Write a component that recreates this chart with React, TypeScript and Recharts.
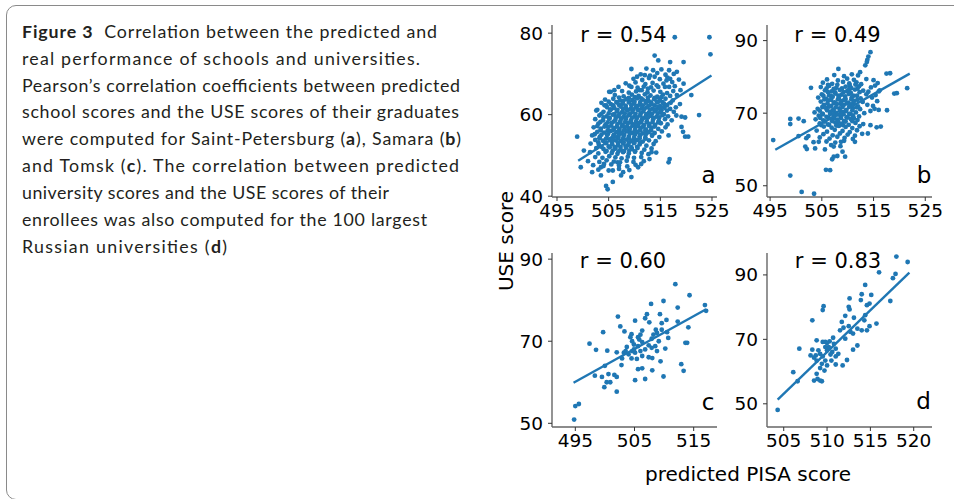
import React from "react";
import { ScatterChart, Scatter, XAxis, YAxis } from "recharts";

type Pt = [number, number];

const BLUE = "#1f77b4";
const MPL_FONT = "'DejaVu Sans', sans-serif";

// (a) Saint-Petersburg schools: predicted PISA score vs USE score
const spbSchools: Pt[] = [
  [517.8, 79.0], [524.5, 79.0], [524.7, 74.8], [513.9, 74.5], [514.6, 73.3], [516.9, 72.9], [519.5, 72.9],
  [509.4, 71.2], [512.3, 71.3], [513.6, 70.9], [515.2, 71.1], [516.7, 70.9], [518.2, 70.5], [510.5, 69.3],
  [512.0, 69.7], [513.9, 69.3], [516.2, 68.4], [516.9, 68.8], [519.5, 67.6], [505.4, 65.6], [506.1, 66.0],
  [509.4, 66.8], [511.0, 66.0], [512.6, 66.4], [514.6, 66.8], [516.7, 66.8], [518.9, 66.0], [521.0, 64.8],
  [502.8, 61.2], [504.5, 62.3], [505.8, 62.3], [522.5, 59.9], [519.1, 59.5], [519.8, 59.3], [498.9, 54.6],
  [500.2, 51.2], [499.6, 47.1], [501.8, 45.9], [503.5, 45.1], [504.5, 42.5], [504.8, 41.7], [505.8, 43.5],
  [507.4, 45.1], [507.8, 45.9], [509.4, 44.7], [505.8, 46.3], [510.7, 47.1], [511.3, 47.9], [512.9, 49.1],
  [513.3, 50.8], [516.8, 49.1], [516.6, 48.3], [519.8, 54.6], [520.4, 54.6], [519.4, 55.8], [519.1, 57.0],
  [503.5, 47.1], [504.1, 47.9], [506.7, 48.3],
  [511.2, 69.9], [513.0, 69.6], [514.4, 70.2], [516.0, 69.8], [517.6, 70.0],
  [509.8, 68.8], [511.5, 68.5], [512.8, 69.0], [514.9, 68.7], [516.4, 69.1], [518.6, 68.6],
  [508.3, 67.7], [510.2, 67.9], [512.1, 67.5], [513.5, 67.8], [515.6, 67.6], [517.3, 68.0],
  [506.9, 66.8], [509.0, 67.1], [510.6, 66.6], [511.8, 66.9], [513.2, 66.7], [514.3, 67.2], [515.9, 66.8], [517.8, 67.0],
  [505.1, 65.6], [507.6, 65.8], [508.9, 65.4], [510.3, 65.7], [511.4, 66.0], [512.5, 65.5], [513.7, 65.9],
  [515.0, 65.6], [516.3, 65.3], [517.5, 65.8],
  [506.2, 64.8], [507.9, 64.5], [509.5, 64.9], [510.8, 64.6], [512.0, 65.0], [513.1, 64.7], [514.4, 64.4],
  [515.5, 64.9], [516.9, 64.6], [518.2, 64.8],
  [507.0, 64.2], [508.9, 64.1], [510.1, 64.3], [511.3, 64.0], [512.6, 64.2], [513.9, 64.1], [515.2, 64.3],
  [504.3, 63.7], [505.9, 63.9], [507.2, 63.5], [508.4, 63.8], [509.6, 63.6], [510.5, 64.0], [511.6, 63.7],
  [512.7, 63.4], [513.8, 63.8], [514.9, 63.6], [516.0, 63.9], [517.4, 63.5],
  [505.0, 63.2], [506.5, 63.1], [507.8, 63.3], [509.0, 63.0], [510.0, 63.2], [511.1, 63.1], [512.2, 63.3],
  [513.2, 63.0], [514.3, 63.2], [515.4, 63.1],
  [503.6, 62.9], [505.4, 62.6], [506.6, 63.0], [507.7, 62.7], [508.9, 63.1], [509.9, 62.8], [511.0, 62.5],
  [512.2, 62.9], [513.3, 62.6], [514.5, 63.0], [515.7, 62.7], [517.0, 62.9], [518.8, 62.6],
  [504.2, 62.3], [505.9, 62.2], [507.0, 62.4], [508.3, 62.2], [509.4, 62.3], [510.5, 62.1], [511.6, 62.3],
  [512.8, 62.2], [513.9, 62.3], [515.0, 62.1], [516.3, 62.3],
  [504.7, 61.8], [506.1, 61.6], [507.3, 62.0], [508.3, 61.7], [509.3, 61.5], [510.3, 61.9], [511.4, 61.6],
  [512.4, 61.8], [513.5, 61.5], [514.6, 61.9], [515.8, 61.7], [516.9, 61.4], [518.0, 61.8],
  [505.4, 61.3], [506.7, 61.2], [507.8, 61.4], [508.8, 61.2], [509.8, 61.3], [510.8, 61.2], [511.9, 61.4],
  [513.0, 61.2], [514.1, 61.3], [515.2, 61.1],
  [502.6, 61.0], [504.0, 60.7], [505.3, 61.1], [506.6, 60.8], [507.6, 60.6], [508.6, 61.0], [509.6, 60.7],
  [510.7, 61.1], [511.7, 60.8], [512.8, 60.5], [513.9, 60.9], [515.0, 60.6], [516.3, 61.0], [517.6, 60.7],
  [503.6, 60.2], [505.0, 60.3], [506.1, 60.1], [507.1, 60.2], [508.1, 60.3], [509.1, 60.1], [510.2, 60.2],
  [511.2, 60.3], [512.3, 60.1], [513.4, 60.2], [514.5, 60.3], [515.7, 60.1],
  [503.2, 59.8], [504.6, 59.6], [505.8, 60.0], [506.9, 59.7], [507.9, 59.5], [508.9, 59.9], [510.0, 59.6],
  [511.1, 59.8], [512.1, 59.4], [513.1, 59.7], [514.3, 59.5], [515.4, 59.9], [516.5, 59.6], [518.1, 59.8],
  [504.0, 59.3], [505.2, 59.2], [506.4, 59.3], [507.4, 59.1], [508.4, 59.3], [509.5, 59.2], [510.5, 59.3],
  [511.6, 59.1], [512.6, 59.3], [513.7, 59.2], [514.8, 59.3],
  [502.4, 58.9], [503.9, 58.6], [505.1, 59.0], [506.3, 58.7], [507.3, 58.5], [508.3, 58.9], [509.3, 58.6],
  [510.4, 59.0], [511.4, 58.7], [512.4, 58.4], [513.6, 58.8], [514.7, 58.5], [515.9, 58.9], [517.2, 58.6],
  [503.4, 58.2], [504.8, 58.1], [506.0, 58.3], [507.2, 58.1], [508.2, 58.2], [509.3, 58.1], [510.3, 58.3],
  [511.3, 58.2], [512.4, 58.1], [513.5, 58.2], [514.6, 58.1],
  [503.0, 57.8], [504.4, 57.6], [505.6, 58.0], [506.7, 57.7], [507.7, 57.5], [508.7, 57.9], [509.8, 57.6],
  [510.8, 57.8], [511.8, 57.4], [512.9, 57.7], [514.0, 57.5], [515.1, 57.9], [516.4, 57.6],
  [502.8, 57.2], [504.2, 57.1], [505.5, 57.3], [506.6, 57.1], [507.6, 57.2], [508.6, 57.1], [509.6, 57.3],
  [510.7, 57.2], [511.7, 57.1], [512.8, 57.2], [513.9, 57.1],
  [502.1, 56.9], [503.5, 56.6], [504.9, 57.0], [506.1, 56.7], [507.1, 56.5], [508.1, 56.9], [509.1, 56.6],
  [510.2, 57.0], [511.2, 56.7], [512.2, 56.4], [513.3, 56.8], [514.6, 56.5], [516.0, 56.9],
  [503.4, 56.2], [504.8, 56.1], [505.9, 56.3], [507.0, 56.1], [508.0, 56.2], [509.0, 56.1], [510.1, 56.3],
  [511.1, 56.2], [512.1, 56.1], [513.2, 56.2],
  [502.8, 55.8], [504.1, 55.6], [505.4, 56.0], [506.5, 55.7], [507.5, 55.5], [508.5, 55.9], [509.6, 55.6],
  [510.6, 55.8], [511.6, 55.4], [512.7, 55.7], [513.9, 55.5], [515.3, 55.9],
  [502.3, 55.2], [503.6, 55.1], [504.9, 55.3], [506.0, 55.1], [507.0, 55.2], [508.0, 55.1], [509.1, 55.3],
  [510.1, 55.2], [511.1, 55.1], [512.2, 55.2], [513.4, 55.1],
  [501.8, 54.9], [503.3, 54.6], [504.7, 55.0], [505.9, 54.7], [506.9, 54.5], [507.9, 54.9], [508.9, 54.6],
  [510.0, 55.0], [511.0, 54.7], [512.1, 54.4], [513.4, 54.8], [514.8, 54.5], [516.6, 54.9],
  [503.2, 54.2], [504.5, 54.1], [505.7, 54.3], [506.8, 54.1], [507.8, 54.2], [508.9, 54.1], [509.9, 54.3],
  [511.0, 54.2], [512.1, 54.1],
  [502.4, 53.8], [503.9, 53.6], [505.2, 54.0], [506.3, 53.7], [507.4, 53.5], [508.4, 53.9], [509.4, 53.6],
  [510.5, 53.8], [511.6, 53.4], [512.8, 53.7], [514.1, 53.5],
  [503.0, 53.2], [504.4, 53.1], [505.6, 53.3], [506.8, 53.1], [507.9, 53.2], [508.9, 53.1], [510.0, 53.3],
  [511.1, 53.2],
  [501.5, 52.9], [503.1, 52.6], [504.5, 53.0], [505.7, 52.7], [506.8, 52.5], [507.8, 52.9], [508.8, 52.6],
  [509.9, 53.0], [511.0, 52.7], [512.3, 52.4], [513.7, 52.8],
  [503.6, 52.1], [505.0, 52.2], [506.2, 52.0], [507.3, 52.1], [508.3, 52.2], [509.4, 52.0], [510.5, 52.1],
  [502.6, 51.8], [504.0, 51.6], [505.2, 52.0], [506.3, 51.7], [507.3, 51.5], [508.4, 51.9], [509.5, 51.6],
  [510.6, 51.8], [511.9, 51.4], [513.3, 51.7],
  [504.6, 51.1], [505.8, 51.2], [506.9, 51.0], [508.0, 51.1], [509.0, 51.2], [510.1, 51.0],
  [501.4, 50.8], [503.0, 50.5], [504.4, 50.9], [505.6, 50.6], [506.7, 50.4], [507.8, 50.8], [508.9, 50.5],
  [510.1, 50.9], [511.4, 50.6], [512.7, 50.3], [514.2, 50.7],
  [502.4, 49.6], [503.8, 49.4], [505.1, 49.8], [506.3, 49.5], [507.5, 49.3], [508.7, 49.7], [509.9, 49.4], [511.3, 49.6],
  [501.0, 48.6], [503.2, 48.4], [504.6, 48.8], [506.0, 48.5], [507.2, 48.3], [508.5, 48.7], [509.8, 48.4], [511.8, 48.6],
  [502.0, 47.6], [504.0, 47.4], [505.5, 47.8], [507.0, 47.5], [508.6, 47.3], [510.2, 47.7],
  [503.0, 46.5], [505.0, 46.3], [507.0, 46.7], [509.0, 46.4],
];
const spbFit: Pt[] = [[499.1, 48.7], [524.9, 69.6]];
const spbXTicks = [495, 505, 515, 525];
const spbYTicks = [40, 60, 80];

// (b) Samara schools
const samaraSchools: Pt[] = [
  [514.4, 86.8], [514.0, 85.6], [513.8, 84.7], [513.7, 84.1], [513.4, 83.2], [508.2, 82.2], [512.4, 81.3],
  [517.5, 80.9], [521.5, 76.9], [519.0, 75.4], [502.9, 77.0], [517.6, 70.8], [514.4, 66.7], [515.6, 66.1],
  [516.4, 66.3], [514.4, 70.6], [515.2, 71.2], [514.9, 72.0], [498.9, 68.4], [498.9, 67.0], [500.5, 68.5],
  [501.5, 67.8], [495.6, 62.6], [500.5, 63.7], [501.8, 60.8], [502.1, 60.1], [503.4, 62.0], [503.7, 60.3],
  [505.6, 60.0], [507.3, 60.8], [507.3, 58.0], [507.0, 57.3], [509.0, 59.4], [505.8, 54.4], [498.9, 52.8],
  [501.1, 48.3], [503.5, 47.8], [513.9, 64.4], [516.0, 76.0], [502.0, 63.1], [502.4, 63.7], [504.4, 62.1],
  [506.6, 54.3], [508.0, 58.2], [509.5, 58.0], [508.7, 62.1], [519.5, 75.5], [518.2, 81.0],
  [507.4, 80.5], [509.3, 80.2], [510.8, 80.7], [512.0, 80.4],
  [506.0, 79.3], [508.1, 79.0], [509.9, 79.5], [511.2, 79.2], [513.6, 79.4], [515.0, 79.1],
  [505.2, 78.4], [507.0, 78.1], [509.1, 78.6], [510.3, 78.2], [511.7, 78.5], [512.6, 78.0], [515.8, 78.3],
  [506.2, 77.8], [508.0, 77.8], [510.4, 77.7], [511.5, 77.9],
  [504.8, 77.2], [506.4, 77.5], [507.8, 77.0], [509.6, 77.3], [510.7, 76.9], [512.2, 77.4], [514.5, 77.1], [515.3, 77.6],
  [505.9, 76.8], [507.3, 76.7], [508.9, 76.8], [510.3, 76.6], [511.9, 76.8],
  [505.6, 76.3], [506.9, 76.0], [508.5, 76.4], [509.9, 76.1], [511.4, 76.5], [513.0, 76.2], [514.0, 75.9], [516.2, 76.3],
  [506.2, 75.8], [507.6, 75.7], [509.2, 75.8], [510.6, 75.6], [512.3, 75.8],
  [505.0, 75.2], [506.4, 74.9], [507.6, 75.4], [508.8, 75.1], [510.2, 75.3], [511.8, 74.8], [513.6, 75.2], [515.4, 75.0],
  [505.3, 74.8], [506.8, 74.7], [508.2, 74.8], [509.5, 74.6], [511.1, 74.8],
  [504.3, 74.3], [505.8, 74.0], [507.1, 74.5], [508.3, 74.2], [509.6, 73.9], [510.8, 74.4], [512.5, 74.1], [514.7, 74.3],
  [505.5, 73.8], [506.8, 73.7], [508.1, 73.8], [509.3, 73.6], [510.7, 73.8], [511.9, 73.7],
  [504.8, 73.2], [506.2, 73.5], [507.5, 73.0], [508.8, 73.3], [510.1, 72.9], [511.3, 73.4], [512.9, 73.1], [515.7, 73.3],
  [506.1, 72.7], [507.3, 72.8], [508.6, 72.6], [509.8, 72.7], [511.1, 72.8],
  [505.4, 72.3], [506.8, 72.0], [507.9, 72.5], [509.2, 72.2], [510.6, 72.4], [512.0, 71.9], [513.8, 72.3],
  [505.1, 71.7], [506.4, 71.8], [507.7, 71.6], [509.0, 71.7], [510.3, 71.8], [511.7, 71.6],
  [504.2, 71.2], [505.7, 71.5], [507.2, 71.0], [508.4, 71.3], [509.7, 70.9], [511.0, 71.4], [512.4, 71.1], [516.0, 70.9],
  [504.6, 70.7], [506.0, 70.8], [507.3, 70.6], [508.5, 70.7], [509.7, 70.6], [510.9, 70.8],
  [503.6, 70.2], [505.1, 69.9], [506.6, 70.4], [507.8, 70.1], [509.0, 70.3], [510.3, 69.8], [511.6, 70.2], [513.2, 70.0],
  [505.2, 69.7], [506.6, 69.8], [507.9, 69.6], [509.2, 69.7], [510.5, 69.8],
  [504.4, 69.3], [505.9, 69.0], [507.3, 69.5], [508.6, 69.2], [509.8, 68.9], [511.0, 69.4], [512.2, 69.1],
  [504.7, 68.7], [506.2, 68.8], [507.4, 68.6], [508.7, 68.7], [510.0, 68.8], [511.2, 68.6],
  [503.8, 68.3], [505.3, 68.0], [506.8, 68.5], [508.0, 68.2], [509.3, 67.9], [510.6, 68.4], [511.9, 68.1],
  [505.6, 67.7], [507.0, 67.8], [508.2, 67.6], [509.6, 67.7], [510.9, 67.8],
  [504.6, 67.2], [506.2, 66.9], [507.6, 67.4], [508.9, 67.1], [510.2, 66.8], [511.5, 67.3], [513.0, 67.0],
  [504.9, 66.7], [506.4, 66.8], [507.8, 66.6], [509.1, 66.7],
  [505.4, 66.3], [506.9, 66.0], [508.3, 66.5], [509.6, 66.2], [510.9, 65.9], [512.3, 66.4],
  [504.0, 65.2], [506.0, 64.9], [507.5, 65.4], [509.0, 65.1], [510.4, 64.8], [511.8, 65.3],
  [505.3, 64.2], [507.1, 63.9], [508.5, 64.4], [510.0, 64.1], [511.4, 63.8], [512.8, 64.3],
  [504.6, 63.3], [506.5, 63.0], [508.0, 63.5], [509.4, 63.2], [511.0, 62.9],
  [505.9, 62.2], [507.6, 61.9], [509.3, 62.4], [511.4, 62.1],
  [506.8, 61.2], [508.6, 60.9],
];
const samaraFit: Pt[] = [[496.0, 59.9], [522.0, 80.9]];
const samaraXTicks = [495, 505, 515, 525];
const samaraYTicks = [50, 70, 90];

// (c) Tomsk schools
const tomskSchools: Pt[] = [
  [494.8, 50.9], [495.0, 54.2], [495.6, 54.7], [511.9, 83.9], [514.3, 81.2], [516.9, 78.8], [517.1, 77.4],
  [507.8, 79.1], [509.9, 79.8], [512.3, 78.2], [509.3, 76.6], [510.4, 75.2], [512.3, 74.8], [514.1, 73.4],
  [502.2, 76.0], [505.1, 75.0], [507.5, 74.6], [507.1, 76.6], [506.8, 75.6], [502.6, 73.6], [503.3, 72.4],
  [499.7, 72.2], [504.3, 71.0], [506.3, 72.6], [508.6, 72.8], [509.6, 72.8], [510.7, 70.8], [497.4, 69.4],
  [498.5, 67.9], [500.4, 67.7], [502.0, 67.3], [503.2, 67.2], [504.0, 66.8], [505.1, 67.2], [505.6, 68.8],
  [506.3, 69.8], [506.8, 68.0], [507.9, 68.4], [508.8, 67.6], [510.2, 68.2], [509.1, 70.0], [507.9, 70.6],
  [504.9, 69.2], [505.6, 71.0], [505.8, 70.4], [506.0, 71.6], [504.6, 70.0], [503.5, 67.6], [502.9, 65.8],
  [504.5, 65.8], [505.4, 65.7], [506.3, 66.4], [507.4, 66.1], [508.0, 65.9], [509.4, 65.1], [502.8, 64.2],
  [500.0, 64.0], [498.3, 61.6], [499.5, 61.3], [500.6, 62.0], [501.6, 61.8], [502.0, 61.3], [500.3, 60.0],
  [499.9, 58.8], [500.9, 60.0], [502.0, 57.7], [505.1, 60.5], [505.6, 63.2], [506.3, 63.4], [506.8, 60.8],
  [508.0, 62.9], [509.9, 61.4], [512.9, 64.4], [513.3, 62.8], [513.6, 69.6], [513.9, 69.6], [508.2, 71.6],
  [508.8, 72.0], [509.6, 74.4], [504.6, 67.6], [503.7, 68.6], [504.9, 68.0], [507.4, 69.0], [508.5, 68.8],
  [506.0, 67.6], [504.5, 71.7], [510.5, 72.2],
];
const tomskFit: Pt[] = [[494.7, 59.9], [517.1, 77.8]];
const tomskXTicks = [495, 505, 515];
const tomskYTicks = [50, 70, 90];

// (d) 100 largest Russian universities
const universities: Pt[] = [
  [504.3, 48.1], [518.0, 95.7], [519.3, 94.0], [516.0, 90.8], [517.9, 90.3], [517.6, 89.0], [514.4, 86.9],
  [517.3, 81.9], [514.0, 84.0], [515.1, 83.8], [513.9, 82.2], [514.9, 81.1], [514.6, 80.6], [512.6, 82.7],
  [512.5, 80.1], [512.6, 79.3], [509.6, 80.3], [509.5, 79.1], [508.3, 75.9], [512.1, 77.3], [513.1, 76.7],
  [514.4, 77.5], [514.3, 75.9], [515.7, 74.9], [514.9, 74.1], [514.6, 72.8], [514.0, 72.8], [513.5, 73.3],
  [512.5, 74.1], [511.7, 75.4], [511.9, 73.6], [511.5, 72.8], [512.7, 72.3], [513.0, 71.8], [512.1, 70.2],
  [510.7, 70.5], [510.8, 68.6], [511.0, 67.1], [510.3, 69.4], [510.0, 68.9], [509.8, 69.2], [509.5, 69.2],
  [508.8, 69.7], [506.8, 67.1], [508.3, 66.8], [509.0, 66.6], [509.2, 65.5], [508.7, 65.0], [508.5, 64.3],
  [509.5, 64.7], [510.0, 66.6], [510.6, 66.1], [511.0, 64.7], [511.3, 65.5], [513.5, 68.1], [513.0, 66.8],
  [512.3, 63.6], [511.8, 61.9], [511.0, 62.2], [509.8, 63.4], [509.2, 61.1], [509.7, 60.3], [510.0, 61.9],
  [510.5, 63.4], [508.8, 63.4], [509.4, 62.4], [506.1, 59.8], [506.6, 57.0], [508.5, 57.2], [508.9, 57.7],
  [509.2, 57.2], [509.4, 57.0], [508.8, 59.3], [508.1, 65.0], [510.2, 67.6], [510.4, 65.3], [509.8, 67.6],
];
const universityFit: Pt[] = [[504.3, 51.3], [519.5, 90.7]];
const universityXTicks = [505, 510, 515, 520];
const universityYTicks = [50, 70, 90];

const rValues = ["0.54", "0.49", "0.60", "0.83"];
const panelLetters = ["a", "b", "c", "d"];

// caption lines, each a list of [text, bold]
const captionLines: [string, boolean][][] = [
  [["Figure 3", true], ["\u00a0\u00a0Correlation between the predicted and", false]],
  [["real performance of schools and universities.", false]],
  [["Pearson\u2019s correlation coefficients between predicted", false]],
  [["school scores and the USE scores of their graduates", false]],
  [["were computed for Saint-Petersburg (", false], ["a", true], ["), Samara (", false], ["b", true], [")", false]],
  [["and Tomsk (", false], ["c", true], ["). The correlation between predicted", false]],
  [["university scores and the USE scores of their", false]],
  [["enrollees was also computed for the 100 largest", false]],
  [["Russian universities (", false], ["d", true], [")", false]],
];
const captionLineEnds = [437, 420, 460, 459, 461, 459, 389, 427, 227];

const toXY = (pts: Pt[]) => pts.map(([x, y]) => ({ x, y }));

const Y_AXIS_W = 44;
const X_AXIS_H = 30;
const MARGIN = { top: 6, right: 22, bottom: 4, left: 0 };
const axisLine = { stroke: "#666", strokeWidth: 1.4 };
const tickLine = { stroke: "#333", strokeWidth: 1 };
const tickText = { fontSize: 18.5, fill: "#000", fontFamily: MPL_FONT };

const Dot = (props: any) => <circle cx={props.cx} cy={props.cy} r={2.4} fill={BLUE} />;
const NoDot = () => <g />;

type PanelProps = {
  box: [number, number, number, number]; // plot area: left, top, right, bottom
  xDomain: [number, number];
  yDomain: [number, number];
  xTicks: number[];
  yTicks: number[];
  points: Pt[];
  fit: Pt[];
};

function Panel({ box, xDomain, yDomain, xTicks, yTicks, points, fit }: PanelProps) {
  const [l, t, r, b] = box;
  const w = r - l;
  const h = b - t;
  return (
    <div style={{ position: "absolute", left: l - Y_AXIS_W - MARGIN.left, top: t - MARGIN.top }}>
      <ScatterChart
        width={MARGIN.left + Y_AXIS_W + w + MARGIN.right}
        height={MARGIN.top + h + X_AXIS_H + MARGIN.bottom}
        margin={MARGIN}
      >
        <XAxis
          type="number"
          dataKey="x"
          domain={xDomain}
          ticks={xTicks}
          interval={0}
          allowDataOverflow
          height={X_AXIS_H}
          tickSize={4}
          tickMargin={3}
          axisLine={axisLine}
          tickLine={tickLine}
          tick={tickText}
        />
        <YAxis
          type="number"
          dataKey="y"
          domain={yDomain}
          ticks={yTicks}
          interval={0}
          allowDataOverflow
          width={Y_AXIS_W}
          tickSize={4}
          tickMargin={5}
          axisLine={axisLine}
          tickLine={tickLine}
          tick={tickText}
        />
        <Scatter data={toXY(points)} shape={Dot} isAnimationActive={false} />
        <Scatter
          data={toXY(fit)}
          line={{ stroke: BLUE, strokeWidth: 2.4 }}
          shape={NoDot}
          isAnimationActive={false}
        />
      </ScatterChart>
    </div>
  );
}

const rPos = [[623.5, 41.7], [837.5, 42.3], [623, 268.3], [838, 268.3]];
const letterPos = [[708.5, 183.3], [924, 183.3], [708, 410], [923.5, 409]];

export default function App() {
  return (
    <div
      style={{
        position: "absolute",
        left: 0,
        top: 0,
        width: 954,
        height: 499,
        overflow: "hidden",
        background: "#fff",
      }}
    >
      <div
        style={{
          position: "absolute",
          left: 6,
          top: 5,
          width: 1000,
          height: 495,
          boxSizing: "border-box",
          border: "1.5px solid #8a8a8a",
          borderRadius: 10,
        }}
      />
      <Panel box={[552, 25, 717, 197]} xDomain={[494.03, 525.97]} yDomain={[39.8, 82]}
        xTicks={spbXTicks} yTicks={spbYTicks} points={spbSchools} fit={spbFit} />
      <Panel box={[767, 25, 932, 197]} xDomain={[494.4, 526.3]} yDomain={[46.9, 94.3]}
        xTicks={samaraXTicks} yTicks={samaraYTicks} points={samaraSchools} fit={samaraFit} />
      <Panel box={[552, 253, 717, 427]} xDomain={[491.06, 518.94]} yDomain={[49.1, 91.5]}
        xTicks={tomskXTicks} yTicks={tomskYTicks} points={tomskSchools} fit={tomskFit} />
      <Panel box={[767, 253, 932, 427]} xDomain={[503.07, 522.11]} yDomain={[42.8, 96.8]}
        xTicks={universityXTicks} yTicks={universityYTicks} points={universities} fit={universityFit} />
      <svg
        width={954}
        height={499}
        style={{ position: "absolute", left: 0, top: 0, pointerEvents: "none" }}
      >
        {captionLines.map((segs, i) => (
          <text
            key={i}
            x={22}
            y={37.7 + i * 26.9}
            fontFamily="Lato, 'Open Sans', sans-serif"
            fontSize={17.8}
            fill="#231f20"
            textLength={captionLineEnds[i] - 22}
            lengthAdjust="spacing"
          >
            {segs.map(([s, bold], j) => (
              <tspan key={j} fontWeight={bold ? 700 : 400}>{s}</tspan>
            ))}
          </text>
        ))}
        {rValues.map((v, i) => (
          <text key={"r" + i} x={rPos[i][0]} y={rPos[i][1]} textAnchor="middle"
            fontFamily={MPL_FONT} fontSize={21} fill="#000">
            {"r = " + v}
          </text>
        ))}
        {panelLetters.map((s, i) => (
          <text key={"l" + i} x={letterPos[i][0]} y={letterPos[i][1]} textAnchor="middle"
            fontFamily={MPL_FONT} fontSize={23} fill="#000">
            {s}
          </text>
        ))}
        <text transform="translate(513, 241) rotate(-90)" textAnchor="middle"
          fontFamily={MPL_FONT} fontSize={20} fill="#000">
          USE score
        </text>
        <text x={748} y={481} textAnchor="middle" fontFamily={MPL_FONT} fontSize={20} fill="#000">
          predicted PISA score
        </text>
      </svg>
    </div>
  );
}
